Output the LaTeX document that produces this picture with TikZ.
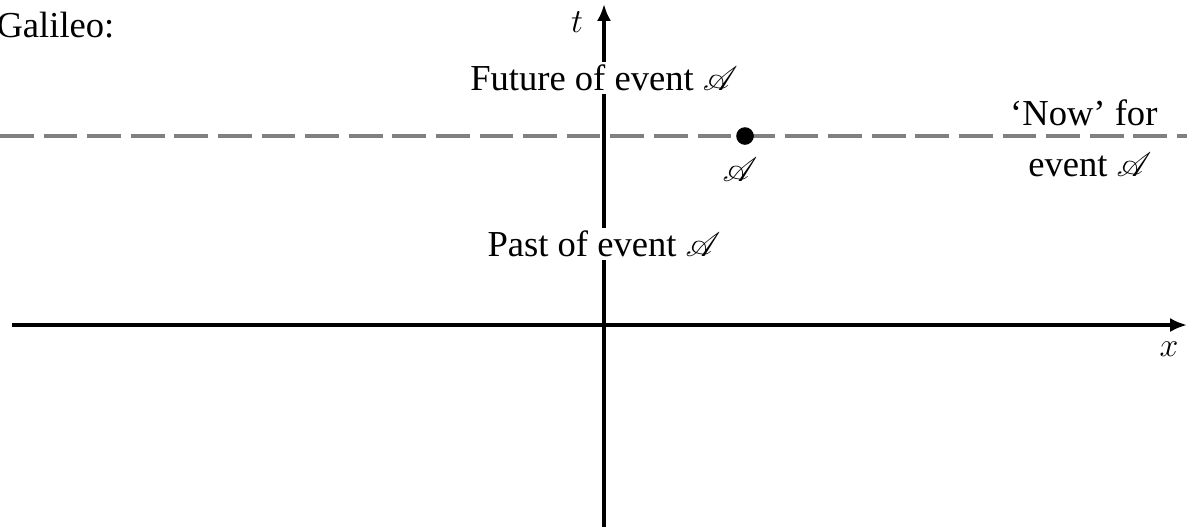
\documentclass[tikz,border=0pt]{standalone}
\usepackage{fontspec}
\setmainfont{Liberation Serif}
\usepackage{mathrsfs}
\usetikzlibrary{arrows.meta, positioning}

\begin{document}
\begin{tikzpicture}[x=0.0125cm, y=-0.0125cm, font=\fontsize{13}{15}\selectfont, node distance=2pt]
\useasboundingbox (0,0) rectangle (1187,531);
\tikzset{axis/.style={line width=1.2pt, -{Latex[length=6pt, width=5pt]}},
  nowline/.style={gray, line width=1.2pt, dash pattern=on 12pt off 3.5pt},
  region/.style={fill=white, inner sep=1pt}}

\coordinate (tbot) at (604,527);
\coordinate (ttop) at (604,4);
\coordinate (xl) at (12,325);
\coordinate (xr) at (1187,325);
\coordinate (nl) at (0,136);
\coordinate (nr) at (1187,136);

\draw[nowline] (nl) -- (nr);
\draw[axis] (tbot) -- (ttop);
\draw[axis] (xl) -- (xr);

\node[region] (future) at (604,78) {Future of event $\mathscr{A}$};
\node[region] (past) at (604,244) {Past of event $\mathscr{A}$};

\node[circle, fill, inner sep=0pt, minimum size=0.22cm] (evA) at (745,136) {};
\node (evlab) at (740,170) {$\mathscr{A}$};

\node (tlab) at (577,22) {$t$};
\node (xlab) at (1169,349) {$x$};

\node[anchor=west, inner sep=0pt] (galileo) at (-4,25) {Galileo:};
\node[anchor=east, inner sep=0pt] (now) at (1158,113) {`Now' for};
\node[anchor=east, inner sep=0pt] (nowev) at (1152,165) {event $\mathscr{A}$};
\end{tikzpicture}
\end{document}
